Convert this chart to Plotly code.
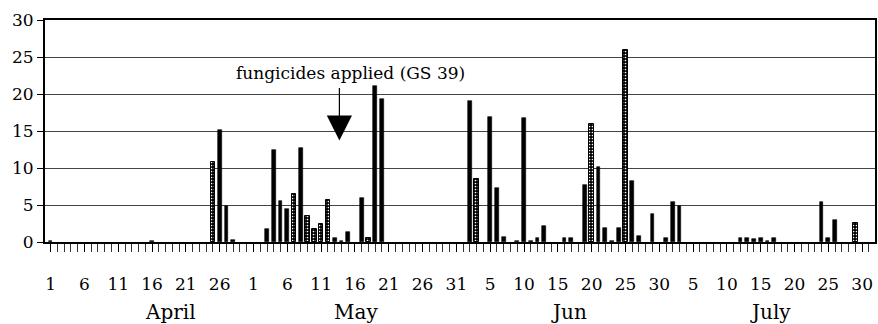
import pandas as pd
import plotly.graph_objects as go

# Daily rainfall (mm), 1 April - 31 July
season_start = "2000-04-01"
season_end = "2000-07-31"

solid_dates = ["04-01", "04-16", "04-26", "04-27", "04-28",
               "05-03", "05-04", "05-05", "05-06", "05-08", "05-13", "05-14",
               "05-15", "05-17", "05-19", "05-20",
               "06-02", "06-05", "06-06", "06-07", "06-09", "06-10", "06-11",
               "06-12", "06-13", "06-16", "06-17", "06-19", "06-21", "06-22",
               "06-23", "06-24", "06-26", "06-27", "06-29",
               "07-01", "07-02", "07-03", "07-12", "07-13", "07-14", "07-15",
               "07-16", "07-17", "07-24", "07-25", "07-26"]
solid_mm = [0.2, 0.2, 15.2, 4.9, 0.3,
            1.8, 12.4, 5.6, 4.5, 12.7, 0.5, 0.15,
            1.3, 5.9, 21.1, 19.3,
            19.1, 16.9, 7.3, 0.7, 0.1, 16.8, 0.15,
            0.5, 2.1, 0.5, 0.5, 7.7, 10.2, 1.9,
            0.1, 1.9, 8.2, 0.85, 3.8,
            0.6, 5.4, 4.9, 0.6, 0.6, 0.4, 0.6,
            0.2, 0.6, 5.4, 0.6, 3.0]

dotted_dates = ["04-25", "05-07", "05-09", "05-10", "05-11", "05-12", "05-18",
                "06-03", "06-20", "06-25", "07-29"]
dotted_mm = [10.8, 6.5, 3.5, 1.7, 2.4, 5.7, 0.6, 8.5, 15.9, 26.0, 2.6]

tick_days = ["04-01", "04-06", "04-11", "04-16", "04-21", "04-26",
             "05-01", "05-06", "05-11", "05-16", "05-21", "05-26", "05-31",
             "06-05", "06-10", "06-15", "06-20", "06-25", "06-30",
             "07-05", "07-10", "07-15", "07-20", "07-25", "07-30"]
month_names = ["April", "May", "Jun", "July"]
month_label_days = [17.7, 45.2, 76.6, 106.5]

spray_day = "05-13"
spray_label = "fungicides applied (GS 39)"

y_ticks = [0, 5, 10, 15, 20, 25, 30]

start = pd.Timestamp(season_start)
n_days = (pd.Timestamp(season_end) - start).days + 1


def day_index(md):
    return (pd.Timestamp(f"2000-{md}") - start).days


solid_x = [day_index(d) for d in solid_dates]
dotted_x = [day_index(d) for d in dotted_dates]
tick_x = [day_index(d) for d in tick_days]
tick_text = [str(int(d.split("-")[1])) for d in tick_days]

SERIF = "DejaVu Serif"

fig = go.Figure()
fig.add_trace(go.Bar(
    x=solid_x, y=solid_mm, width=0.55,
    marker=dict(color="black", line=dict(color="black", width=0.6)),
    showlegend=False,
))
fig.add_trace(go.Bar(
    x=dotted_x, y=dotted_mm, width=0.65,
    marker=dict(color="black", line=dict(color="black", width=1),
                pattern=dict(shape=".", fgcolor="white", bgcolor="black",
                             size=3, solidity=0.25, fillmode="replace")),
    showlegend=False,
))

# Spray timing: arrow with a large filled head, and its label above
spray_x = day_index(spray_day) + 0.7
fig.add_annotation(
    x=spray_x, y=13.7, xref="x", yref="y",
    ax=0, ay=-54, axref="pixel", ayref="pixel",
    text="", showarrow=True, arrowhead=2, arrowsize=4.2, arrowwidth=1.2,
    arrowcolor="black",
)
fig.add_annotation(
    x=day_index(spray_day) + 2.3, y=22.8, xref="x", yref="y",
    text=spray_label, showarrow=False,
    font=dict(family=SERIF, size=17, color="black"),
)

for name, xd in zip(month_names, month_label_days):
    fig.add_annotation(
        x=xd, y=0, xref="x", yref="paper", yanchor="top",
        yshift=-56, text=name, showarrow=False,
        font=dict(family=SERIF, size=20, color="black"),
    )

fig.update_layout(
    width=878, height=324,
    margin=dict(l=45, r=1, t=20, b=82),
    paper_bgcolor="white", plot_bgcolor="white",
    bargap=0, barmode="overlay",
    font=dict(family=SERIF, size=16, color="black"),
)
fig.update_xaxes(
    range=[-0.83, n_days - 0.1],
    tickmode="array", tickvals=tick_x, ticktext=tick_text,
    ticks="outside", ticklen=8, tickcolor="black", tickwidth=1,
    ticklabelstandoff=18,
    minor=dict(dtick=1, tick0=0, ticks="outside", ticklen=8,
               tickcolor="#333", tickwidth=1, showgrid=False),
    showline=True, linecolor="black", linewidth=2, mirror=True,
    showgrid=False, zeroline=False,
    tickfont=dict(family=SERIF, size=17),
)
fig.update_yaxes(
    range=[0, 30], tickvals=y_ticks,
    ticks="outside", ticklen=6, tickcolor="black",
    showline=True, linecolor="black", linewidth=2, mirror=True,
    showgrid=True, gridcolor="#444", gridwidth=1, zeroline=False,
    tickfont=dict(family=SERIF, size=17),
)

fig.write_html("out.html")
